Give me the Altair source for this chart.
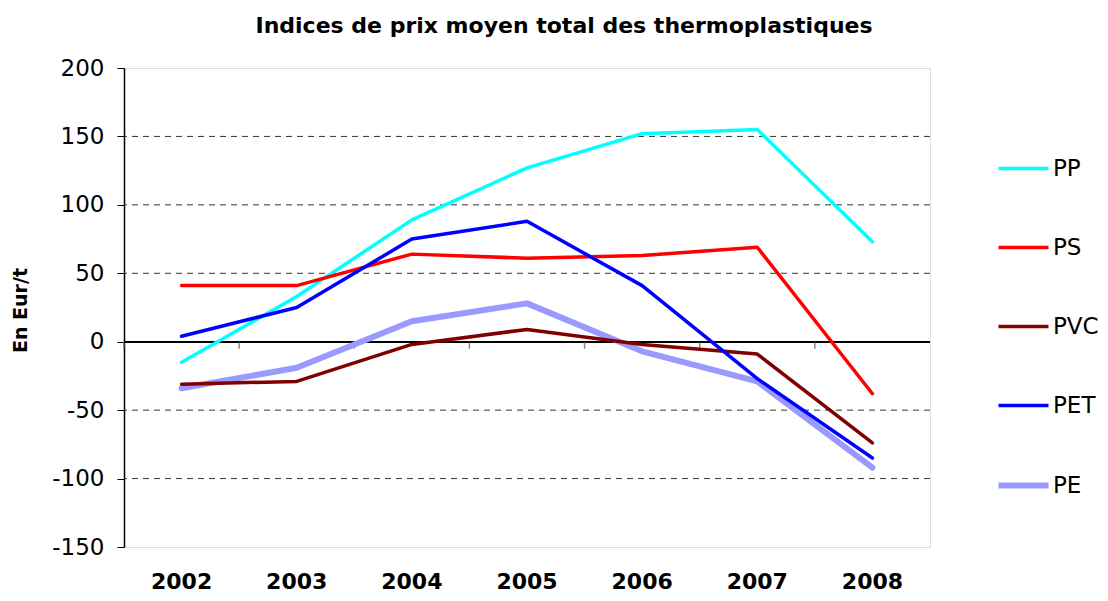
import altair as alt
import pandas as pd

years = ["2002", "2003", "2004", "2005", "2006", "2007", "2008"]
series_names = ["PP", "PS", "PVC", "PET", "PE"]
pp = [-15, 33, 89, 127, 152, 155, 73]
ps = [41, 41, 64, 61, 63, 69, -38]
pvc = [-31, -29, -2, 9, -2, -9, -74]
pet = [4, 25, 75, 88, 41, -27, -85]
pe = [-34, -19, 15, 28, -7, -29, -92]
colors = ["#00FFFF", "#FF0000", "#800000", "#0000FF", "#9999FF"]
y_ticks = [-150, -100, -50, 0, 50, 100, 150, 200]
grid_values = [-100, -50, 50, 100, 150]

values = {"PP": pp, "PS": ps, "PVC": pvc, "PET": pet, "PE": pe}
draw_order = ["PE", "PP", "PS", "PVC", "PET"]
rows = []
for name in draw_order:
    for yr, v in zip(years, values[name]):
        rows.append({"year": yr, "series": name, "value": v})
df = pd.DataFrame(rows)
df_years = pd.DataFrame({"year": years, "zero": [0] * len(years)})
df_grid = pd.DataFrame({"g": grid_values})

FONT = "DejaVu Sans"

x_scale = alt.Scale(domain=years, paddingInner=0, paddingOuter=0)
y_scale = alt.Scale(domain=[-150, 200], nice=False, zero=False)

x_axis = alt.Axis(title=None, domain=False, ticks=False, labelAngle=0, bandPosition=0.5,
                  labelFont=FONT, labelFontSize=22, labelFontWeight="bold",
                  labelColor="black", labelPadding=24)
y_axis = alt.Axis(title="En Eur/t", values=y_ticks, grid=False,
                  labelExpr="datum.value + ''",
                  domainColor="black", domainWidth=1.5,
                  tickColor="black", tickSize=7, tickWidth=1,
                  labelFont=FONT, labelFontSize=23, labelColor="black",
                  labelPadding=13,
                  titleFont=FONT, titleFontSize=19, titleFontWeight="bold",
                  titleColor="black", titleX=-94, titleY=242,
                  titleAngle=270, titleAlign="center")

leg = alt.Legend(orient="none", legendX=888, legendY=89, title=None,
                 symbolType="stroke", symbolSize=2500, labelFont=FONT,
                 labelFontSize=23, labelColor="black", labelOffset=18,
                 rowPadding=55, padding=0,
                 symbolStrokeWidth={"expr": "datum.value === 'PE' ? 6 : 3.5"})

lines = alt.Chart(df).mark_line(strokeCap="round", strokeJoin="round").encode(
    x=alt.X("year:N", scale=x_scale, sort=years, axis=x_axis),
    y=alt.Y("value:Q", scale=y_scale, axis=y_axis),
    color=alt.Color("series:N", scale=alt.Scale(domain=series_names, range=colors),
                    legend=leg),
    strokeWidth=alt.condition("datum.series === 'PE'", alt.value(6), alt.value(3.5)),
    detail="series:N",
)

grid = alt.Chart(df_grid).mark_rule(color="#333333", strokeWidth=1,
                                    strokeDash=[6, 5]).encode(
    y=alt.Y("g:Q", scale=y_scale, axis=y_axis)
)

zero_line = alt.Chart(df_years).mark_rule(color="black", strokeWidth=1.5).encode(
    y=alt.Y("zero:Q", scale=y_scale, axis=y_axis)
)

ticks = alt.Chart(df_years).mark_tick(orient="vertical", size=7, thickness=1.5,
                                      color="#555555", yOffset=3.5).encode(
    x=alt.X("year:N", scale=x_scale, sort=years, bandPosition=0, axis=x_axis),
    y=alt.Y("zero:Q", scale=y_scale, axis=y_axis),
)

chart = alt.layer(grid, zero_line, ticks, lines).properties(
    width=806,
    height=479,
    padding={"left": 116, "top": 60, "right": 170, "bottom": 46},
    autosize="none",
    title=alt.TitleParams(
        "Indices de prix moyen total des thermoplastiques",
        font=FONT, fontSize=22, fontWeight="bold", color="black",
        anchor="middle", dx=37, offset=2, baseline="alphabetic",
    ),
).configure_view(stroke="black", strokeWidth=1.5).configure(background="white")

chart.save("out.html", embed_options={"renderer": "svg", "actions": False})
